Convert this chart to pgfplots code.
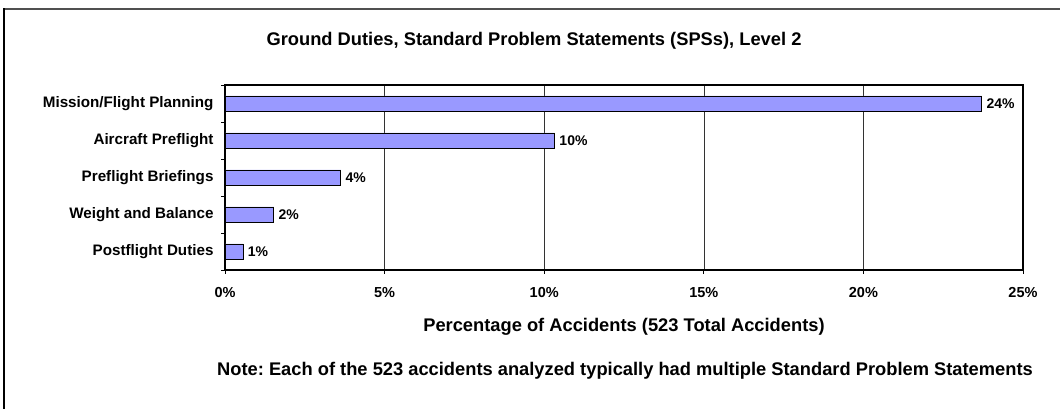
\documentclass[border=0pt]{standalone}
\usepackage{fontspec}
\setmainfont{Liberation Sans}
\usepackage{pgfplots}
\pgfplotsset{compat=1.18}
\definecolor{barfill}{HTML}{9999FF}
\definecolor{framegray}{HTML}{505050}
\newcommand{\fs}[1]{\fontsize{#1}{#1}\selectfont\bfseries}
\frenchspacing
\begin{document}
\begin{tikzpicture}[x=1pt,y=1pt]
  \path[use as bounding box] (0,0) rectangle (1060,409);
  % outer chart frame (only top and left visible)
  \draw[framegray, line width=1.5pt] (4,400) -- (1060,400);
  \draw[black, line width=1.5pt] (4,400.75) -- (4,0);
  \node[font=\fs{18.3}] at (534,368) {Ground Duties, Standard Problem Statements (SPSs), Level 2};
  \begin{axis}[
      at={(225pt,139pt)}, anchor=south west,
      scale only axis, width=798pt, height=185pt,
      xbar, bar width=15pt,
      xmin=0, xmax=25, ymin=-0.5, ymax=4.5, y dir=reverse,
      axis line style={line width=1.4pt},
      tick align=outside, major tick length=4pt,
      xtick pos=bottom, ytick pos=left,
      tick style={black, line width=0.8pt},
      xtick={0,5,...,25},
      xticklabel={\pgfmathprintnumber{\tick}\%},
      /pgf/number format/assume math mode=true,
      xticklabel style={font=\fs{14.5}, yshift=-10pt},
      ytick={-0.5,0.5,...,4.5}, yticklabels={},
      extra y ticks={0,1,2,3,4},
      extra y tick labels={Mission/Flight Planning, Aircraft Preflight, Preflight Briefings, Weight and Balance, Postflight Duties},
      extra y tick style={major tick length=0pt, yticklabel style={font=\fs{15.2}, xshift=-8pt}},
      xmajorgrids, grid style={black!80, line width=0.6pt},
      xlabel={Percentage of Accidents (523 Total Accidents)},
      xlabel style={font=\fs{18.3}, at={(axis description cs:0.5,0)}, anchor=center, yshift=-57pt},
      point meta=explicit symbolic,
      nodes near coords,
      nodes near coords style={font=\fs{14}, anchor=west, xshift=1pt},
    ]
    \addplot[fill=barfill, draw=black, line width=0.8pt] coordinates {
      (23.71,0) [24\%]
      (10.33,1) [10\%]
      (3.63,2) [4\%]
      (1.53,3) [2\%]
      (0.57,4) [1\%]
    };
  \end{axis}
  \node[font=\fs{18.3}] at (625,38) {Note: Each of the 523 accidents analyzed typically had multiple Standard Problem Statements};
\end{tikzpicture}
\end{document}
